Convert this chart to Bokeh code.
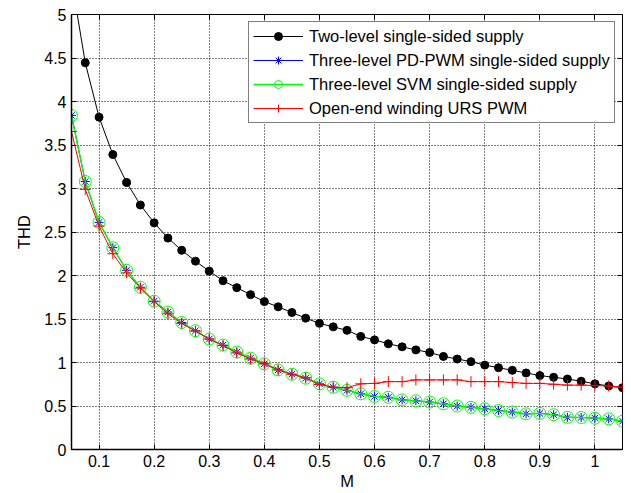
from bokeh.plotting import figure
from bokeh.models import FixedTicker, LinearAxis, Legend, LegendItem, Range1d
from bokeh.embed import file_html
from bokeh.resources import INLINE

M = [0.05, 0.075, 0.1, 0.125, 0.15, 0.175, 0.2, 0.225, 0.25, 0.275,
     0.3, 0.325, 0.35, 0.375, 0.4, 0.425, 0.45, 0.475, 0.5, 0.525,
     0.55, 0.575, 0.6, 0.625, 0.65, 0.675, 0.7, 0.725, 0.75, 0.775,
     0.8, 0.825, 0.85, 0.875, 0.9, 0.925, 0.95, 0.975, 1.0, 1.025, 1.05]

two_level = [5.40, 4.445, 3.82, 3.39, 3.07, 2.81, 2.605, 2.43, 2.29, 2.165,
             2.05, 1.94, 1.86, 1.78, 1.70, 1.64, 1.575, 1.51, 1.45, 1.41,
             1.37, 1.30, 1.26, 1.215, 1.18, 1.145, 1.115, 1.07, 1.04, 1.01,
             0.97, 0.94, 0.91, 0.88, 0.85, 0.83, 0.81, 0.785, 0.755, 0.73, 0.71]

three_pd = [3.84, 3.08, 2.61, 2.32, 2.06, 1.865, 1.705, 1.58, 1.46, 1.365,
            1.27, 1.20, 1.12, 1.05, 0.985, 0.915, 0.865, 0.82, 0.755, 0.715,
            0.68, 0.64, 0.61, 0.60, 0.57, 0.56, 0.545, 0.525, 0.50, 0.485,
            0.468, 0.448, 0.43, 0.41, 0.415, 0.40, 0.37, 0.368, 0.36, 0.352, 0.325]

three_svm = [3.84, 3.08, 2.61, 2.32, 2.06, 1.865, 1.705, 1.58, 1.46, 1.365,
             1.27, 1.20, 1.12, 1.05, 0.985, 0.915, 0.865, 0.82, 0.755, 0.715,
             0.68, 0.64, 0.61, 0.60, 0.57, 0.56, 0.545, 0.525, 0.50, 0.485,
             0.468, 0.448, 0.43, 0.41, 0.415, 0.40, 0.37, 0.368, 0.36, 0.352, 0.325]

open_end = [3.655, 2.99, 2.567, 2.25, 2.03, 1.855, 1.70, 1.56, 1.45, 1.36,
            1.27, 1.195, 1.11, 1.04, 0.985, 0.915, 0.865, 0.825, 0.747, 0.716,
            0.71, 0.755, 0.76, 0.78, 0.78, 0.80, 0.80, 0.80, 0.80, 0.78,
            0.78, 0.78, 0.77, 0.76, 0.76, 0.75, 0.74, 0.74, 0.735, 0.73, 0.715]

labels = ["Two-level single-sided supply",
          "Three-level PD-PWM single-sided supply",
          "Three-level SVM single-sided supply",
          "Open-end winding URS PWM"]

x_ticks = [0.1, 0.2, 0.3, 0.4, 0.5, 0.6, 0.7, 0.8, 0.9, 1.0]
x_tick_labels = ["0.1", "0.2", "0.3", "0.4", "0.5", "0.6", "0.7", "0.8", "0.9", "1"]
y_ticks = [0, 0.5, 1, 1.5, 2, 2.5, 3, 3.5, 4, 4.5, 5]
y_tick_labels = ["0", "0.5", "1", "1.5", "2", "2.5", "3", "3.5", "4", "4.5", "5"]

FONT = "Liberation Sans"
FS = "16px"

p = figure(width=631, height=493, output_backend="svg", toolbar_location=None,
           x_range=Range1d(0.05, 1.05), y_range=Range1d(0, 5),
           min_border_left=71, min_border_right=9, min_border_top=14, min_border_bottom=44)
p.background_fill_color = "white"
p.border_fill_color = "white"
p.outline_line_color = "black"
p.outline_line_width = 1

for ax in (p.xaxis[0], p.yaxis[0]):
    ax.major_tick_in = 5
    ax.major_tick_out = 0
    ax.minor_tick_line_color = None
    ax.axis_line_color = "black"
    ax.axis_line_width = 1.5
    ax.major_tick_line_color = "black"
    ax.major_label_text_font = FONT
    ax.major_label_text_font_size = FS
    ax.major_label_text_color = "black"
    ax.axis_label_text_font = FONT
    ax.axis_label_text_font_size = "16.5px"
    ax.axis_label_text_font_style = "normal"
    ax.axis_label_text_color = "black"

p.xaxis[0].ticker = FixedTicker(ticks=x_ticks)
p.xaxis[0].major_label_overrides = dict(zip(x_ticks, x_tick_labels))
p.xaxis[0].major_label_standoff = 5
p.xaxis[0].axis_label = "M"
p.xaxis[0].axis_label_standoff = 2
p.yaxis[0].ticker = FixedTicker(ticks=y_ticks)
p.yaxis[0].major_label_overrides = dict(zip(y_ticks, y_tick_labels))
p.yaxis[0].major_label_standoff = 5
p.yaxis[0].axis_label = "THD"
p.yaxis[0].axis_label_standoff = 8

for loc, ticks in (("right", y_ticks), ("above", x_ticks)):
    ax = LinearAxis(ticker=FixedTicker(ticks=ticks))
    ax.major_tick_in = 5
    ax.major_tick_out = 0
    ax.minor_tick_line_color = None
    ax.axis_line_color = None
    ax.major_tick_line_color = "black"
    ax.major_label_text_font_size = "0px"
    ax.major_label_text_color = None
    ax.major_label_standoff = 0
    p.add_layout(ax, loc)

p.xgrid.ticker = FixedTicker(ticks=x_ticks)
p.ygrid.ticker = FixedTicker(ticks=y_ticks)
for g in (p.xgrid[0], p.ygrid[0]):
    g.grid_line_color = "black"
    g.grid_line_dash = "1 2"
    g.grid_line_width = 1
    g.grid_line_alpha = 1

l1 = p.line(M, two_level, line_color="black", line_width=1)
s1 = p.scatter(M, two_level, marker="circle", size=8, fill_color="black", line_color="black")
l2 = p.line(M, three_pd, line_color="blue", line_width=1)
s2 = p.scatter(M, three_pd, marker="asterisk", size=9, line_color="blue", line_width=1)
l3 = p.line(M, three_svm, line_color="#00ff00", line_width=1.3)
s3 = p.scatter(M, three_svm, marker="circle", size=12, fill_color=None, line_color="#00ff00", line_width=1)
l4 = p.line(M, open_end, line_color="red", line_width=1)
s4 = p.scatter(M, open_end, marker="cross", size=11, line_color="red", line_width=1)

legend = Legend(items=[
    LegendItem(label=labels[0], renderers=[l1, s1]),
    LegendItem(label=labels[1], renderers=[l2, s2]),
    LegendItem(label=labels[2], renderers=[l3, s3]),
    LegendItem(label=labels[3], renderers=[l4, s4]),
])
legend.location = (177, 326)
legend.margin = 0
legend.padding = 4
legend.spacing = 4
legend.glyph_width = 50
legend.glyph_height = 20
legend.label_height = 20
legend.label_standoff = 6
legend.label_text_font = FONT
legend.label_text_font_size = "16.5px"
legend.label_text_color = "black"
legend.border_line_color = "black"
legend.border_line_width = 1
legend.background_fill_color = "white"
legend.background_fill_alpha = 1
p.add_layout(legend)

open("out.html", "w").write(file_html(p, INLINE))
